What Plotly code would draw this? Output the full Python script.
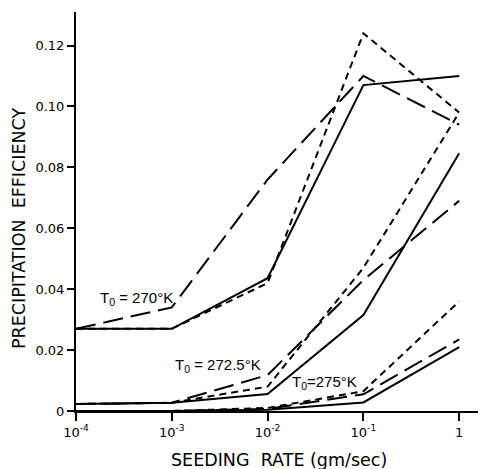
import plotly.graph_objects as go

seeding_rate = [1e-4, 1e-3, 1e-2, 1e-1, 1.0]

# T0 = 270 K
t270_solid = [0.027, 0.027, 0.0436, 0.107, 0.110]
t270_long = [0.027, 0.034, 0.076, 0.110, 0.094]
t270_short = [0.027, 0.027, 0.042, 0.124, 0.098]

# T0 = 272.5 K
t2725_solid = [0.0023, 0.0027, 0.0056, 0.0315, 0.0846]
t2725_long = [0.0023, 0.0027, 0.0118, 0.043, 0.069]
t2725_short = [0.0023, 0.0027, 0.008, 0.047, 0.098]

# T0 = 275 K
t275_solid = [0.0, 0.0, 0.0004, 0.0028, 0.021]
t275_long = [0.0, 0.0, 0.0007, 0.0055, 0.0235]
t275_short = [0.0, 0.0, 0.001, 0.0065, 0.036]

y_tickvals = [0, 0.02, 0.04, 0.06, 0.08, 0.10, 0.12]
y_ticktext = ["0", "0.02", "0.04", "0.06", "0.08", "0.10", "0.12"]
x_tickvals = [1e-4, 1e-3, 1e-2, 1e-1, 1.0]
x_ticktext = ["10<sup>-4</sup>", "10<sup>-3</sup>", "10<sup>-2</sup>", "10<sup>-1</sup>", "1"]

labels = ["T<sub>0</sub> = 270°K", "T<sub>0</sub> = 272.5°K", "T<sub>0</sub>=275°K"]
label_x = [-3.37, -2.52, -1.41]
label_y = [0.037, 0.0148, 0.0092]

x_title = "SEEDING  RATE (gm/sec)"
y_title = "PRECIPITATION  EFFICIENCY"

# page has an 8px body margin; size the figure so it fits the window
W, H = 478, 461
L, R, T, B = 68, 0, 4, 58
plot_w = W - L - R
plot_h = H - T - B

fig = go.Figure()
series = [
    (t270_solid, "solid"), (t270_long, "20px,8px"), (t270_short, "7px,5px"),
    (t2725_solid, "solid"), (t2725_long, "20px,8px"), (t2725_short, "7px,5px"),
    (t275_solid, "solid"), (t275_long, "20px,8px"), (t275_short, "7px,5px"),
]
for ys, dash in series:
    fig.add_trace(go.Scatter(x=seeding_rate, y=ys, mode="lines",
                             line=dict(color="black", width=2, dash=dash),
                             showlegend=False, hoverinfo="skip"))

for t, lx, ly in zip(labels, label_x, label_y):
    fig.add_annotation(x=lx, y=ly, xref="x", yref="y", text=t, showarrow=False,
                       font=dict(size=15, color="black", family="Liberation Sans"))

# axis titles placed in pixel terms relative to the plot area
fig.add_annotation(x=(271 - L) / plot_w, y=-(451.5 - (H - B)) / plot_h, xref="paper", yref="paper",
                   text=x_title, showarrow=False, xanchor="center", yanchor="middle",
                   font=dict(size=17.5, color="black", family="DejaVu Sans"))
fig.add_annotation(x=-(L - 11) / plot_w, y=((H - B) - 221) / plot_h, xref="paper", yref="paper",
                   text=y_title, showarrow=False, textangle=-90, xanchor="center", yanchor="middle",
                   font=dict(size=17.5, color="black", family="DejaVu Sans"))

fig.update_layout(
    width=W, height=H,
    margin=dict(l=L, r=R, t=T, b=B, pad=0),
    paper_bgcolor="white", plot_bgcolor="white",
    font=dict(family="DejaVu Sans", color="black"),
    xaxis=dict(type="log", range=[-4, 0.28], showgrid=False, zeroline=False,
               automargin=False,
               showline=True, linecolor="black", linewidth=2,
               ticks="outside", ticklen=8, tickwidth=2, tickcolor="black",
               tickvals=x_tickvals, ticktext=x_ticktext,
               tickfont=dict(size=13)),
    yaxis=dict(range=[0, 0.131], showgrid=False, zeroline=False,
               automargin=False,
               showline=True, linecolor="black", linewidth=2,
               ticks="outside", ticklen=7, tickwidth=2, tickcolor="black",
               tickvals=y_tickvals, ticktext=y_ticktext,
               tickfont=dict(size=13)),
)

fig.write_html("out.html")
